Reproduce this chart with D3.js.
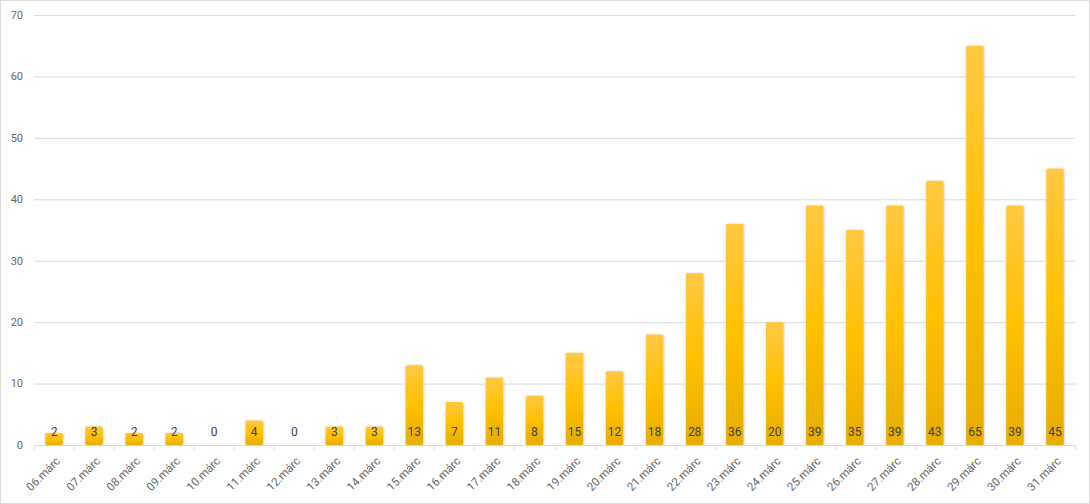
<!DOCTYPE html>
<html><head><meta charset="utf-8">
<script src="https://cdn.jsdelivr.net/npm/d3@7"></script>
<style>
html,body{margin:0;padding:0;background:#fff;}
svg{display:block;font-family:"Roboto","Liberation Sans",sans-serif;font-weight:400;}
</style></head><body>
<svg id="c" width="1090" height="504"></svg>
<script>
const categories = ["06.márc","07.márc","08.márc","09.márc","10.márc","11.márc","12.márc","13.márc","14.márc","15.márc","16.márc","17.márc","18.márc","19.márc","20.márc","21.márc","22.márc","23.márc","24.márc","25.márc","26.márc","27.márc","28.márc","29.márc","30.márc","31.márc"];
const values = [2,3,2,2,0,4,0,3,3,13,7,11,8,15,12,18,28,36,20,39,35,39,43,65,39,45];
const yTicks = [0,10,20,30,40,50,60,70];

const W = 1090, H = 504;
const m = {left:34, right:15, top:15, bottom:59};
const svg = d3.select("#c");

svg.append("rect").attr("x",0.5).attr("y",0.5).attr("width",W-1).attr("height",H-1)
  .attr("fill","#fff").attr("stroke","#d9d9d9");

const defs = svg.append("defs");
const g1 = defs.append("linearGradient").attr("id","bg").attr("x1",0).attr("y1",0).attr("x2",0).attr("y2",1);
g1.append("stop").attr("offset","0%").attr("stop-color","#ffc843");
g1.append("stop").attr("offset","50%").attr("stop-color","#ffc000");
g1.append("stop").attr("offset","100%").attr("stop-color","#e5ad00");
const f = defs.append("filter").attr("id","sh").attr("x","-30%").attr("y","-10%").attr("width","160%").attr("height","130%");
f.append("feDropShadow").attr("dx",0.5).attr("dy",0.5).attr("stdDeviation",1).attr("flood-color","#000").attr("flood-opacity",0.25);

const x = d3.scaleBand().domain(categories).range([m.left, W-m.right]).paddingInner(0).paddingOuter(0);
const y = d3.scaleLinear().domain([0,70]).range([H-m.bottom, m.top]);

// gridlines
svg.append("g").selectAll("line").data(yTicks.filter(d=>d>0)).join("line")
  .attr("x1",m.left).attr("x2",W-m.right)
  .attr("y1",d=>y(d)+0.5).attr("y2",d=>y(d)+0.5)
  .attr("stroke","#d9d9d9").attr("stroke-width",1);

// y labels
svg.append("g").selectAll("text").data(yTicks).join("text")
  .attr("x",23).attr("y",d=>y(d)).attr("dy","0.35em")
  .attr("text-anchor","end").attr("font-size",11).attr("fill","#666")
  .text(d=>d);

// bars
const bw = 17.5;
svg.append("g").selectAll("rect").data(values).join("rect")
  .attr("x",(d,i)=>x(categories[i])+x.bandwidth()/2-bw/2)
  .attr("y",d=>y(d))
  .attr("width",bw)
  .attr("height",d=>y(0)-y(d))
  .attr("rx",1.5)
  .attr("fill","url(#bg)")
  .attr("filter","url(#sh)");

// x axis line and ticks
const xa = svg.append("g");
xa.append("line").attr("x1",m.left).attr("x2",W-m.right)
  .attr("y1",y(0)+0.5).attr("y2",y(0)+0.5).attr("stroke","#d9d9d9");
const bounds = categories.map(c=>x(c)).concat([W-m.right]);
xa.selectAll("line.t").data(bounds).join("line").attr("class","t")
  .attr("x1",d=>Math.round(d)+0.5).attr("x2",d=>Math.round(d)+0.5)
  .attr("y1",y(0)).attr("y2",y(0)+5).attr("stroke","#d9d9d9");

// value labels
svg.append("g").selectAll("text").data(values).join("text")
  .attr("x",(d,i)=>x(categories[i])+x.bandwidth()/2)
  .attr("y",y(0)-9)
  .attr("text-anchor","middle").attr("font-size",12).attr("fill","#404040")
  .text(d=>d);

// category labels
svg.append("g").selectAll("text").data(categories).join("text")
  .attr("transform",d=>`translate(${x(d)+x.bandwidth()/2+4},${y(0)+14}) rotate(-45)`)
  .attr("text-anchor","end").attr("dy","0.35em")
  .attr("font-size",11.5).attr("fill","#666")
  .text(d=>d);
</script>
</body></html>
